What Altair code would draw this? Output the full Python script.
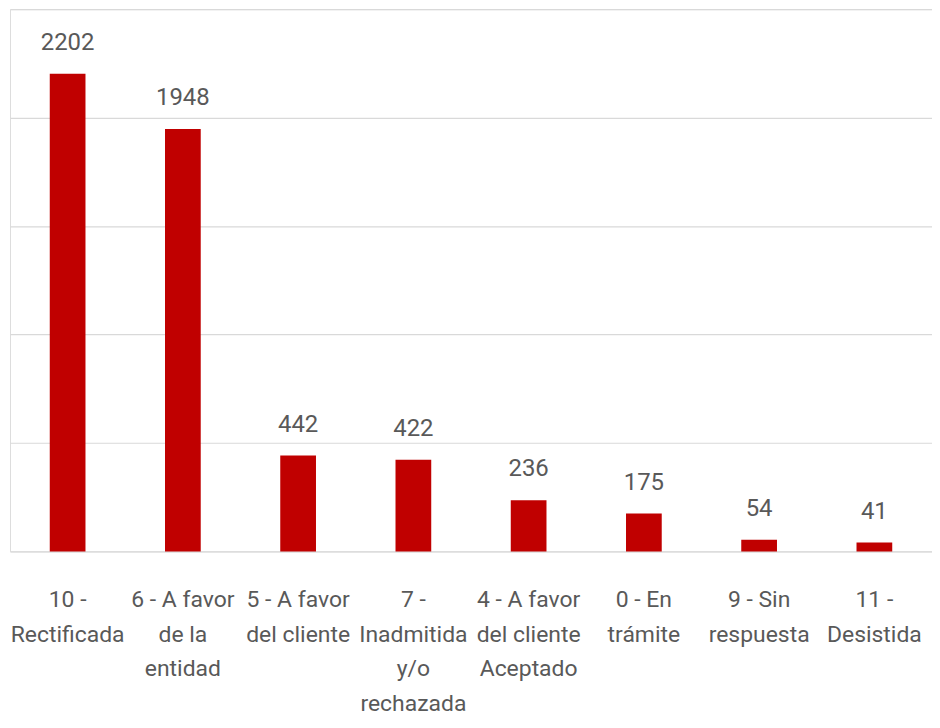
import altair as alt
import pandas as pd

categories = [
    "10 -|Rectificada",
    "6 - A favor|de la|entidad",
    "5 - A favor|del cliente",
    "7 -|Inadmitida|y/o|rechazada",
    "4 - A favor|del cliente|Aceptado",
    "0 - En|trámite",
    "9 - Sin|respuesta",
    "11 -|Desistida",
]
values = [2202, 1948, 442, 422, 236, 175, 54, 41]

df = pd.DataFrame({"cat": categories, "val": values})

FONT = "Roboto"
GRAY = "#595959"

x = alt.X(
    "cat:N",
    sort=categories,
    scale=alt.Scale(paddingInner=0.69, paddingOuter=0.345),
    axis=alt.Axis(
        title=None,
        labelAngle=0,
        labelExpr="split(datum.label, '|')",
        labelFont=FONT,
        labelFontSize=23,
        labelColor=GRAY,
        labelLineHeight=35,
        labelPadding=37,
        labelBaseline="top",
        labelLimit=300,
        labelOverlap=False,
        labelBound=False,
        ticks=False,
        domain=False,
        grid=False,
    ),
)
y = alt.Y(
    "val:Q",
    scale=alt.Scale(domain=[0, 2500], nice=False),
    axis=alt.Axis(
        title=None,
        values=[0, 500, 1000, 1500, 2000, 2500],
        labels=False,
        ticks=False,
        domain=False,
        grid=True,
        gridColor="#d9d9d9",
        gridWidth=1.2,
    ),
)

bars = alt.Chart(df).mark_bar(color="#C00000").encode(x=x, y=y)
labels = alt.Chart(df).mark_text(
    font=FONT, fontSize=24, color=GRAY, baseline="alphabetic", dy=-24
).encode(x=x, y=y, text=alt.Text("val:Q"))

chart = (
    alt.layer(bars, labels)
    .properties(
        width=925,
        height=544,
        autosize=alt.AutoSizeParams(type="none"),
        padding={"left": 2, "top": 0, "right": 0, "bottom": 176},
    )
    .configure_view(stroke=None)
    .configure(background="white")
)

chart.save("out.html", embed_options={"renderer": "svg", "actions": False})
